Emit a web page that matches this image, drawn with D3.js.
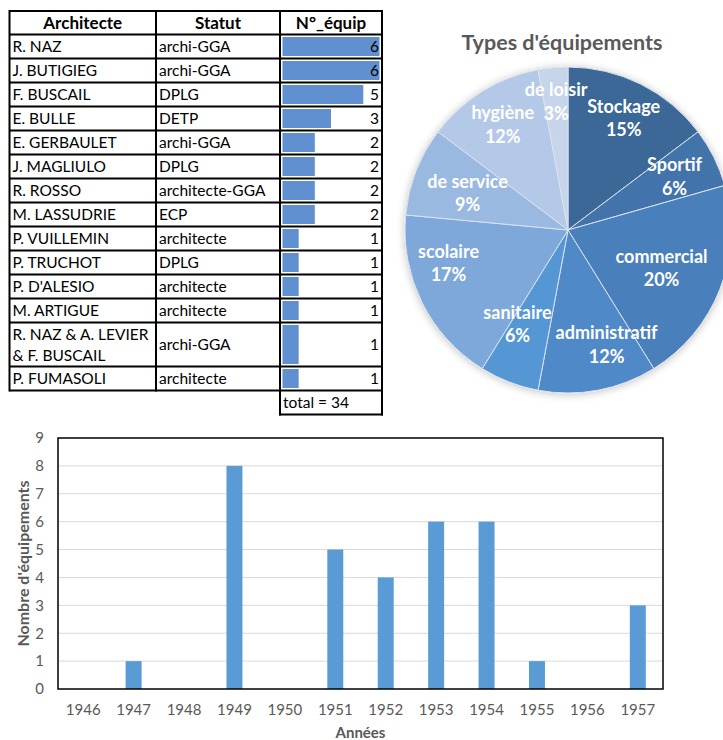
<!DOCTYPE html>
<html><head><meta charset="utf-8">
<script src="https://cdn.jsdelivr.net/npm/d3@7"></script>
<style>
html,body{margin:0;padding:0;background:#fff;}
svg{display:block;font-family:Lato,"Open Sans",sans-serif;}
</style></head>
<body>
<svg id="c" width="723" height="740"></svg>
<script>
// ---- table data ----
const architects = ["R. NAZ","J. BUTIGIEG","F. BUSCAIL","E. BULLE","E. GERBAULET","J. MAGLIULO","R. ROSSO","M. LASSUDRIE","P. VUILLEMIN","P. TRUCHOT","P. D'ALESIO","M. ARTIGUE","R. NAZ & A. LEVIER\n& F. BUSCAIL","P. FUMASOLI"];
const statuts = ["archi-GGA","archi-GGA","DPLG","DETP","archi-GGA","DPLG","architecte-GGA","ECP","architecte","DPLG","architecte","architecte","archi-GGA","architecte"];
const nbEquip = [6,6,5,3,2,2,2,2,1,1,1,1,1,1];
const tableHeaders = ["Architecte","Statut","N°_équip"];
const totalLabel = "total = 34";

// ---- pie data ----
const pieTitle = "Types d'équipements";
const types = ["Stockage","Sportif","commercial","administratif","sanitaire","scolaire","de service","hygiène","de loisir"];
const typeCounts = [5,2,7,4,2,6,3,4,1];
const typePct = ["15%","6%","20%","12%","6%","17%","9%","12%","3%"];

// ---- bar data ----
const years = ["1946","1947","1948","1949","1950","1951","1952","1953","1954","1955","1956","1957"];
const yearCounts = [0,1,0,8,0,5,4,6,6,1,0,3];
const yTicks = [0,1,2,3,4,5,6,7,8,9];

// layout only: pie label radius and angular nudge (degrees), as placed by the original "best fit"
const pieLabelRadius = [125,119,101,121,107,124,107,124,129];
const pieLabelNudge  = [0,0,1,-8,7,11,-1,0,0];

const svg = d3.select("#c");

// ================= TABLE =================
(function(){
  const colX = [9.5,156,280,382];
  const top = 11, headerH = 23.5, rowH = 24, dblH = 44;
  const g = svg.append("g");
  const rows = architects.map((a,i)=>({a, s:statuts[i], n:nbEquip[i], h: a.includes("\n")?dblH:rowH}));
  let y = top + headerH;
  rows.forEach(r=>{ r.y = y; y += r.h; });
  const tableBottom = y;
  const barX = d3.scaleLinear().domain([0,6]).range([colX[2]+2.5, colX[3]-2.5]);

  g.selectAll("rect.db").data(rows).join("rect")
    .attr("x", barX(0)).attr("y", d=>d.y+2.5)
    .attr("width", d=>barX(d.n)-barX(0)).attr("height", d=>d.h-5)
    .attr("fill","#6090cf");

  g.selectAll("text.h").data(tableHeaders).join("text")
    .attr("x",(d,i)=>(colX[i]+colX[i+1])/2).attr("y", top+headerH/2+6)
    .attr("text-anchor","middle").attr("font-weight","bold").attr("font-size",17).attr("fill","#000")
    .text(d=>d);

  const fs = 15.5;
  rows.forEach(r=>{
    const lines = r.a.split("\n");
    const cy = r.y + r.h/2;
    lines.forEach((ln,k)=>{
      g.append("text").attr("x",colX[0]+3).attr("y", cy + 5.5 + (k-(lines.length-1)/2)*21)
        .attr("font-size",fs).attr("fill","#000").text(ln);
    });
    g.append("text").attr("x",colX[1]+3).attr("y",cy+5.5).attr("font-size",fs).attr("fill","#000").text(r.s);
    g.append("text").attr("x",colX[3]-3).attr("y",cy+5.5).attr("text-anchor","end").attr("font-size",fs).attr("fill","#000").text(r.n);
  });

  const ls = g.append("g").attr("stroke","#000").attr("stroke-width",2);
  ls.append("line").attr("x1",colX[0]).attr("x2",colX[3]).attr("y1",top).attr("y2",top);
  ls.append("line").attr("x1",colX[0]).attr("x2",colX[3]).attr("y1",top+headerH).attr("y2",top+headerH);
  rows.forEach(r=>{
    ls.append("line").attr("x1",colX[0]).attr("x2",colX[3]).attr("y1",r.y+r.h).attr("y2",r.y+r.h);
  });
  colX.forEach(x=>{
    ls.append("line").attr("x1",x).attr("x2",x).attr("y1",top-1).attr("y2",tableBottom+1);
  });
  const tb = tableBottom + 24;
  ls.append("line").attr("x1",colX[2]).attr("x2",colX[2]).attr("y1",tableBottom).attr("y2",tb+1);
  ls.append("line").attr("x1",colX[3]).attr("x2",colX[3]).attr("y1",tableBottom).attr("y2",tb+1);
  ls.append("line").attr("x1",colX[2]-1).attr("x2",colX[3]+1).attr("y1",tb).attr("y2",tb);
  g.append("text").attr("x",colX[2]+3).attr("y",tableBottom+17.5).attr("font-size",fs).attr("fill","#000").text(totalLabel);
})();

// ================= PIE =================
(function(){
  const cx = 568, cy = 230, R = 163;
  const colors = ["#3b6797","#4273aa","#4a7fba","#4f89c7","#5596d4","#7ea8da","#9ab9e0","#b3c9e7","#c6d5ea"];
  const defs = svg.append("defs");
  const f = defs.append("filter").attr("id","sh").attr("x","-20%").attr("y","-20%").attr("width","140%").attr("height","140%");
  f.append("feGaussianBlur").attr("in","SourceAlpha").attr("stdDeviation",4).attr("result","b");
  f.append("feOffset").attr("in","b").attr("dx",0).attr("dy",1).attr("result","o");
  f.append("feComponentTransfer").attr("in","o").attr("result","o2").append("feFuncA").attr("type","linear").attr("slope",0.25);
  const m = f.append("feMerge"); m.append("feMergeNode").attr("in","o2"); m.append("feMergeNode").attr("in","SourceGraphic");

  svg.append("text").attr("x",562).attr("y",50).attr("text-anchor","middle")
    .attr("font-weight","bold").attr("font-size",21.5).attr("fill","#595959").text(pieTitle);

  const pie = d3.pie().sort(null).value(d=>d)(typeCounts);
  const arc = d3.arc().innerRadius(0).outerRadius(R);
  const g = svg.append("g").attr("transform",`translate(${cx},${cy})`);
  g.append("g").attr("filter","url(#sh)").selectAll("path").data(pie).join("path")
    .attr("d",arc).attr("fill",(d,i)=>colors[i]).attr("stroke","#d9e2ee").attr("stroke-width",1);
  const lg = g.selectAll("g.l").data(pie).join("g")
    .attr("transform",(d,i)=>{
      const a = (d.startAngle+d.endAngle)/2 + pieLabelNudge[i]*Math.PI/180;
      const r = pieLabelRadius[i];
      return `translate(${r*Math.sin(a)},${-r*Math.cos(a)})`;
    });
  lg.append("text").attr("text-anchor","middle").attr("y",-5.5).attr("font-weight","bold")
    .attr("font-size",18).attr("fill","#fff").text((d,i)=>types[i]);
  lg.append("text").attr("text-anchor","middle").attr("y",18).attr("font-weight","bold")
    .attr("font-size",18).attr("fill","#fff").text((d,i)=>typePct[i]);
})();

// ================= BAR CHART =================
(function(){
  const L = 58, Rr = 663, T = 438, B = 689;
  const x = d3.scaleBand().domain(years).range([L,Rr]).paddingInner(0.683).paddingOuter(0.3415);
  const y = d3.scaleLinear().domain([0,9]).range([B,T]);
  const g = svg.append("g");
  g.selectAll("line.gr").data(yTicks.filter(t=>t>0&&t<9)).join("line")
    .attr("x1",L).attr("x2",Rr).attr("y1",d=>y(d)).attr("y2",d=>y(d))
    .attr("stroke","#d9d9d9").attr("stroke-width",1);
  g.selectAll("rect.b").data(yearCounts).join("rect")
    .attr("x",(d,i)=>x(years[i])).attr("width",x.bandwidth())
    .attr("y",d=>y(d)).attr("height",d=>y(0)-y(d)).attr("fill","#5b9bd5");
  g.append("rect").attr("x",L).attr("y",T).attr("width",Rr-L).attr("height",B-T)
    .attr("fill","none").attr("stroke","#000").attr("stroke-width",1.5);

  const ya = d3.axisLeft(y).tickValues(yTicks).tickSize(0).tickPadding(14);
  const yg = g.append("g").attr("transform",`translate(${L},0)`).call(ya);
  yg.select(".domain").remove();
  yg.selectAll("text").attr("font-family","Lato").attr("font-size",15).attr("fill","#595959");

  const xa = d3.axisBottom(x).tickSize(0).tickPadding(15);
  const xg = g.append("g").attr("transform",`translate(0,${B})`).call(xa);
  xg.select(".domain").remove();
  xg.selectAll("text").attr("font-family","Lato").attr("font-size",15).attr("fill","#595959");

  g.append("text").attr("x",(L+Rr)/2).attr("y",738).attr("text-anchor","middle")
    .attr("font-weight","bold").attr("font-size",15).attr("fill","#595959").text("Années");
  g.append("text").attr("transform",`translate(29,${(T+B)/2}) rotate(-90)`).attr("text-anchor","middle")
    .attr("font-weight","bold").attr("font-size",16).attr("fill","#595959").text("Nombre d'équipements");
})();
</script>
</body></html>
